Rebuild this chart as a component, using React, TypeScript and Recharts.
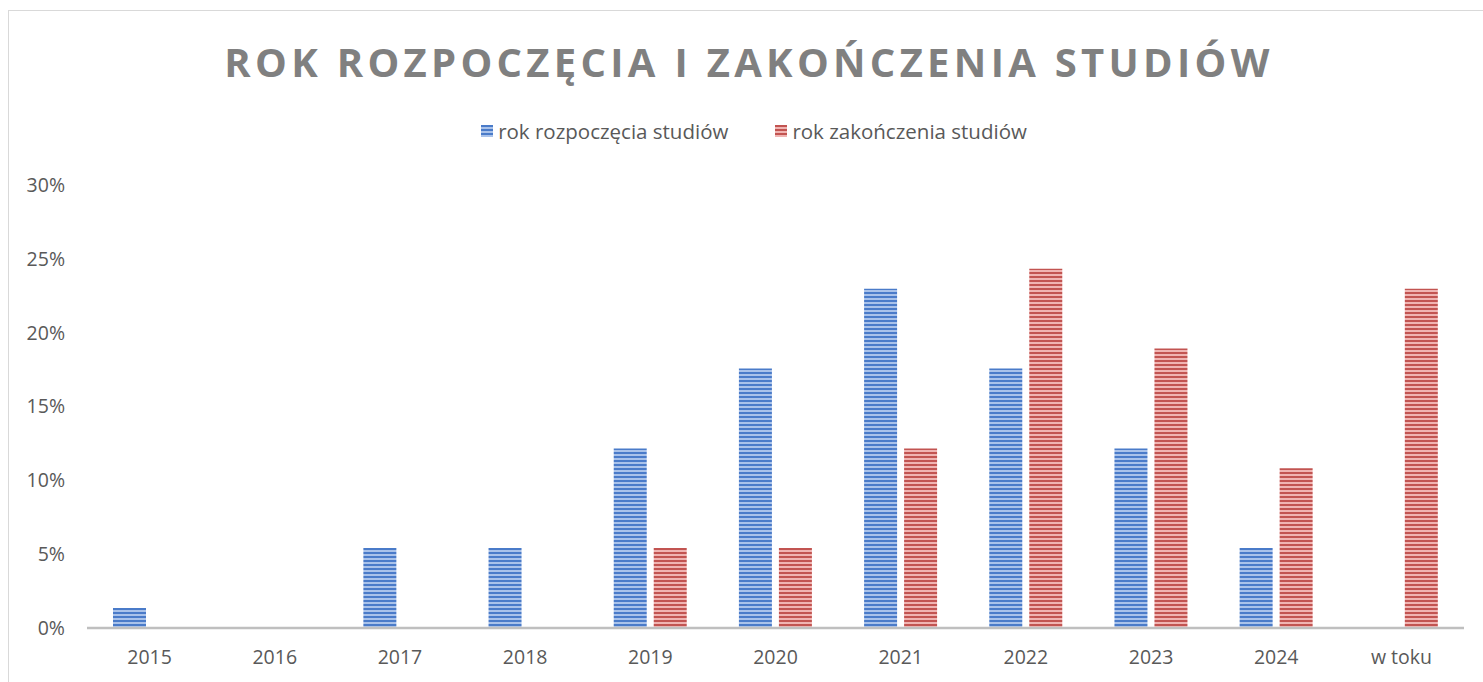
import React from 'react';
import { BarChart, Bar, XAxis, YAxis } from 'recharts';

const categories = ['2015', '2016', '2017', '2018', '2019', '2020', '2021', '2022', '2023', '2024', 'w toku'];
const startValues = [1.35, 0, 5.41, 5.41, 12.16, 17.57, 22.97, 17.57, 12.16, 5.41, 0];
const endValues = [0, 0, 0, 0, 5.41, 5.41, 12.16, 24.32, 18.92, 10.81, 22.97];
const yTicks = [0, 5, 10, 15, 20, 25, 30];

const seriesNames = ['rok rozpoczęcia studiów', 'rok zakończenia studiów'];
const seriesColors = [
    { id: 'stripeBlue', dark: '#4a7bc9', light: '#a9c2ea' },
    { id: 'stripeRed', dark: '#c25451', light: '#f0b4b2' },
];

const chartData = categories.map((name, i) => ({
    name,
    start: startValues[i],
    end: endValues[i],
}));

const FONT = '"Open Sans", "Liberation Sans", sans-serif';

export default function App() {
    return (
        <div style={{ position: 'absolute', left: 0, top: 0, width: 1483, height: 682, overflow: 'hidden', background: '#fff', fontFamily: FONT }}>
            {/* chart frame, right and bottom edges fall outside the shot */}
            <div style={{ position: 'absolute', left: 8, top: 10, width: 1500, height: 720, border: '1.5px solid #d9d9d9' }} />
            <div style={{ position: 'absolute', left: 9, width: 1480, top: 37, textAlign: 'center', fontSize: 40, fontWeight: 700, letterSpacing: 4.3, color: '#808080', lineHeight: '50px' }}>
                ROK ROZPOCZĘCIA I ZAKOŃCZENIA STUDIÓW
            </div>
            <div style={{ position: 'absolute', left: 0, width: 1508, top: 117, display: 'flex', justifyContent: 'center', gap: 47, fontSize: 20.5, color: '#595959', lineHeight: '28px' }}>
                {seriesNames.map((n, i) => (
                    <div key={n} style={{ display: 'flex', alignItems: 'center' }}>
                        <svg width={12} height={12} style={{ marginRight: 5 }}>
                            <rect width={12} height={12} fill={`url(#${seriesColors[i].id})`} />
                        </svg>
                        {n}
                    </div>
                ))}
            </div>
            <div style={{ position: 'absolute', left: 0, top: 0 }}>
                <BarChart
                    width={1483}
                    height={682}
                    data={chartData}
                    margin={{ top: 185, right: 19, bottom: 24, left: 0 }}
                    barSize={33}
                    barGap={7}
                >
                    <defs>
                        {seriesColors.map(c => (
                            <pattern key={c.id} id={c.id} width={4} height={4} patternUnits="userSpaceOnUse">
                                <rect width={4} height={4} fill={c.light} />
                                <rect width={4} height={2} fill={c.dark} />
                            </pattern>
                        ))}
                    </defs>
                    <XAxis
                        dataKey="name"
                        height={30}
                        axisLine={{ stroke: '#bfbfbf', strokeWidth: 2.5 }}
                        tickLine={false}
                        tickMargin={16}
                        tick={{ fontSize: 19.5, fill: '#595959', fontFamily: FONT }}
                    />
                    <YAxis
                        width={87}
                        domain={[0, 30]}
                        ticks={yTicks}
                        axisLine={false}
                        tickLine={false}
                        tickMargin={16}
                        tickFormatter={(v: number) => `${v}%`}
                        tick={{ fontSize: 19.5, fill: '#595959', fontFamily: FONT }}
                    />
                    <Bar dataKey="start" name={seriesNames[0]} fill="url(#stripeBlue)" isAnimationActive={false} />
                    <Bar dataKey="end" name={seriesNames[1]} fill="url(#stripeRed)" isAnimationActive={false} />
                </BarChart>
            </div>
        </div>
    );
}
